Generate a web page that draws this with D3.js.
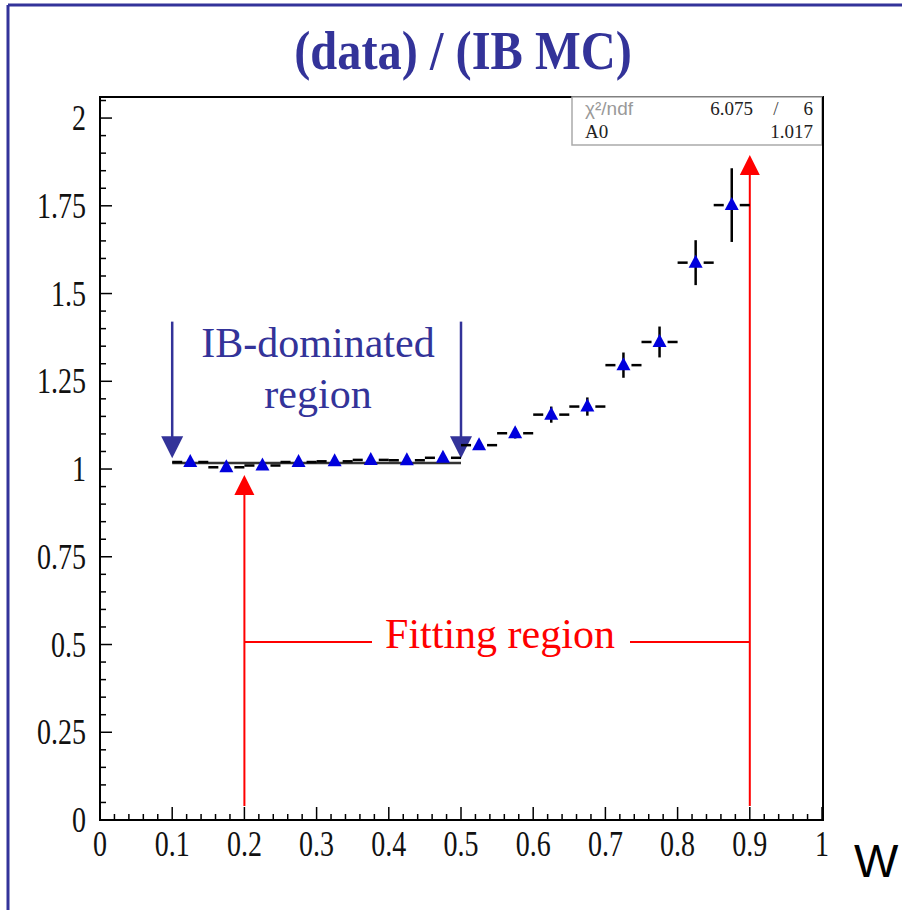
<!DOCTYPE html>
<html><head><meta charset="utf-8">
<script src="https://cdn.jsdelivr.net/npm/d3@7"></script>
<style>body{margin:0;background:#fff}svg{display:block}</style>
</head><body>
<script>
// ---- data ----
const binCenters = [0.125,0.175,0.225,0.275,0.325,0.375,0.425,0.475,0.525,0.575,0.625,0.675,0.725,0.775,0.825,0.875];
const ratioValues = [1.020,1.005,1.010,1.020,1.022,1.026,1.025,1.032,1.068,1.102,1.155,1.178,1.296,1.362,1.588,1.752];
const ratioErrors = [0.008,0.008,0.008,0.008,0.009,0.009,0.010,0.011,0.013,0.015,0.023,0.026,0.036,0.044,0.064,0.105];
const binHalfWidth = 0.025;
const fitValue = 1.017;
const fitRange = [0.1, 0.5];
const xTickLabels = ["0","0.1","0.2","0.3","0.4","0.5","0.6","0.7","0.8","0.9","1"];
const yTickLabels = ["0","0.25","0.5","0.75","1","1.25","1.5","1.75","2"];
const statsRows = [["\u03C7\u00B2/ndf","6.075","/","6"],["A0","","","1.017"]];
const ibArrowsX = [0.1, 0.5];
const ibArrowY = [1.42, 1.031];
const fitArrowsX = [0.2, 0.9];
const fitArrowTop = [0.983, 1.895];
const fitArrowBottom = 0.04;
const fitBracketY = 0.507;

const W = 902, H = 910;
const svg = d3.select("body").append("svg").attr("width", W).attr("height", H);

// outer border
const borderCol = "#33339a";
svg.append("line").attr("x1",8).attr("x2",W).attr("y1",5).attr("y2",5).attr("stroke",borderCol).attr("stroke-width",3);
svg.append("line").attr("x1",8).attr("x2",8).attr("y1",5).attr("y2",H).attr("stroke",borderCol).attr("stroke-width",3);

const serif = "'Liberation Serif','Times New Roman',serif";

// title
svg.append("text").attr("transform","translate(463,69) scale(0.95,1.08)").attr("text-anchor","middle")
  .attr("font-family",serif).attr("font-weight","bold")
  .attr("font-size",51).attr("fill","#333399").text("(data) / (IB MC)");

const L = 100, R = 822, T = 97, B = 820;
const x = d3.scaleLinear().domain([0,1]).range([L,R]);
const y = d3.scaleLinear().domain([0,2.06]).range([B,T]);

// frame
svg.append("rect").attr("x",L).attr("y",T).attr("width",R-L+1).attr("height",B-T)
  .attr("fill","none").attr("stroke","#000").attr("stroke-width",2);

// x ticks
const g = svg.append("g");
d3.range(0,51).forEach(i=>{
  const v = i*0.02, major = i%5===0;
  g.append("line").attr("x1",x(v)).attr("x2",x(v)).attr("y1",B).attr("y2",B-(major?13:6))
    .attr("stroke","#000").attr("stroke-width",1.5);
});
xTickLabels.forEach(t=>{
  g.append("text").attr("transform",`translate(${x(+t)},856) scale(1,1.3)`).attr("text-anchor","middle")
    .attr("font-family",serif).attr("font-size",28).attr("fill","#111").text(t);
});
// y ticks
d3.range(0,42).forEach(i=>{
  const v = i*0.05; if (v>2.06) return;
  const major = i%5===0;
  g.append("line").attr("x1",L).attr("x2",L+(major?12:6)).attr("y1",y(v)).attr("y2",y(v))
    .attr("stroke","#000").attr("stroke-width",1.5);
});
yTickLabels.forEach(t=>{
  g.append("text").attr("transform",`translate(86,${y(+t)+12}) scale(1,1.3)`).attr("text-anchor","end")
    .attr("font-family",serif).attr("font-size",28).attr("fill","#111").text(t);
});

// W label
svg.append("text").attr("x",854).attr("y",877).attr("font-family","'Liberation Sans',Arial,sans-serif")
  .attr("font-size",47).attr("fill","#000").text("W");

// stats box
const sb = svg.append("g");
sb.append("rect").attr("x",572).attr("y",T).attr("width",R-572).attr("height",48)
  .attr("fill","#fff").attr("stroke","#aaa").attr("stroke-width",1.5);
sb.append("text").attr("x",585).attr("y",115).attr("font-family","'Liberation Sans',Arial,sans-serif")
  .attr("font-size",19).attr("fill","#999").text(statsRows[0][0]);
sb.append("text").attr("x",753).attr("y",115).attr("text-anchor","end").attr("font-family",serif)
  .attr("font-size",19).attr("fill","#222").text(statsRows[0][1]);
sb.append("text").attr("x",776).attr("y",115).attr("text-anchor","middle").attr("font-family",serif)
  .attr("font-size",19).attr("fill","#444").text(statsRows[0][2]);
sb.append("text").attr("x",813).attr("y",115).attr("text-anchor","end").attr("font-family",serif)
  .attr("font-size",19).attr("fill","#222").text(statsRows[0][3]);
sb.append("text").attr("x",585).attr("y",138).attr("font-family",serif)
  .attr("font-size",19).attr("fill","#222").text(statsRows[1][0]);
sb.append("text").attr("x",813).attr("y",138).attr("text-anchor","end").attr("font-family",serif)
  .attr("font-size",19).attr("fill","#222").text(statsRows[1][3]);
// redraw right frame edge over box
svg.append("line").attr("x1",R+1).attr("x2",R+1).attr("y1",T).attr("y2",B).attr("stroke","#000").attr("stroke-width",2);

// fit line
svg.append("line").attr("x1",x(fitRange[0])).attr("x2",x(fitRange[1])).attr("y1",y(fitValue)).attr("y2",y(fitValue))
  .attr("stroke","#333").attr("stroke-width",2.5);

// arrows helper
function arrow(xv, y0, y1, col, sw, hw, hh){
  const px = x(xv), pTip = y(y1), pTail = y(y0);
  const dir = pTip > pTail ? 1 : -1;
  svg.append("line").attr("x1",px).attr("x2",px).attr("y1",pTail).attr("y2",pTip - dir*hh*0.6)
    .attr("stroke",col).attr("stroke-width",sw);
  svg.append("path").attr("d",`M${px},${pTip} L${px-hw/2},${pTip-dir*hh} L${px+hw/2},${pTip-dir*hh} Z`).attr("fill",col);
}
// red fitting region
fitArrowsX.forEach((xv,i)=>arrow(xv, fitArrowBottom, fitArrowTop[i], "#ff0000", 2, 20, 20));
svg.append("line").attr("x1",x(fitArrowsX[0])).attr("x2",372).attr("y1",y(fitBracketY)).attr("y2",y(fitBracketY)).attr("stroke","#ff0000").attr("stroke-width",2);
svg.append("line").attr("x1",630).attr("x2",x(fitArrowsX[1])).attr("y1",y(fitBracketY)).attr("y2",y(fitBracketY)).attr("stroke","#ff0000").attr("stroke-width",2);
svg.append("text").attr("x",500).attr("y",648).attr("text-anchor","middle").attr("font-family",serif)
  .attr("font-size",42).attr("fill","#ff0000").text("Fitting region");

// blue IB arrows
ibArrowsX.forEach(xv=>arrow(xv, ibArrowY[0], ibArrowY[1], "#333399", 2.5, 22, 22));
svg.append("text").attr("x",318).attr("y",357).attr("text-anchor","middle").attr("font-family",serif)
  .attr("font-size",42).attr("fill","#333399").text("IB-dominated");
svg.append("text").attr("x",318).attr("y",408).attr("text-anchor","middle").attr("font-family",serif)
  .attr("font-size",42).attr("fill","#333399").text("region");

// data points
const pts = svg.append("g");
binCenters.forEach((c,i)=>{
  const px = x(c), py = y(ratioValues[i]);
  const x0 = x(c-binHalfWidth), x1 = x(c+binHalfWidth);
  const gap = 8;
  pts.append("line").attr("x1",x0).attr("x2",px-gap).attr("y1",py).attr("y2",py).attr("stroke","#000").attr("stroke-width",2.5);
  pts.append("line").attr("x1",px+gap).attr("x2",x1).attr("y1",py).attr("y2",py).attr("stroke","#000").attr("stroke-width",2.5);
  const yt = y(ratioValues[i]+ratioErrors[i]), yb = y(ratioValues[i]-ratioErrors[i]);
  pts.append("line").attr("x1",px).attr("x2",px).attr("y1",yt).attr("y2",yb).attr("stroke","#000").attr("stroke-width",2.5);
  pts.append("path").attr("d",`M${px},${py-8} L${px-7},${py+5} L${px+7},${py+5} Z`).attr("fill","#0000dd");
});
</script>
</body></html>
